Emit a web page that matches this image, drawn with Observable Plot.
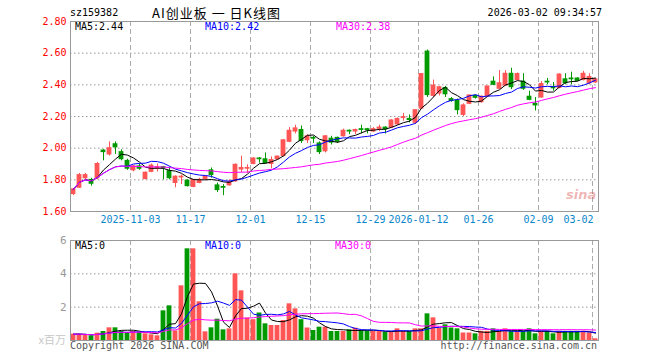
<!DOCTYPE html>
<html><head><meta charset="utf-8">
<script src="https://cdn.jsdelivr.net/npm/d3@7"></script>
<script src="https://cdn.jsdelivr.net/npm/@observablehq/plot@0.6"></script>
<style>
body{margin:0;background:#fff;width:660px;height:360px;overflow:hidden;position:relative;font-family:"DejaVu Sans Mono",monospace;}
.t{position:absolute;white-space:nowrap;font-size:10px;line-height:12px;}
#main,#vol{position:absolute;left:0;}
#main{top:0;} #vol{top:232px;}
</style></head><body>
<div id="main"></div>
<div id="vol"></div>
<script>
// ---- data ----
const tickIdx = [10,20,30,40,50,58,68,78,87];
const tickLabels = ["2025-11-03","11-17","12-01","12-15","12-29","2026-01-12","01-26","02-09","03-02"];
const priceTicks = [1.6,1.8,2.0,2.2,2.4,2.6,2.8];
const volTicks = [2,4,6];
const open = [1.71,1.75,1.81,1.80,1.81,1.985,1.96,2.025,1.975,1.92, 1.86,1.885,1.805,1.85,1.87,1.88,1.855,1.78,1.815,1.795, 1.755,1.78,1.805,1.86,1.765,1.755,1.765,1.79,1.865,1.87, 1.90,1.935,1.93,1.90,1.93,1.95,2.04,2.105,2.115,2.05, 2.065,2.03,1.98,2.06,2.065,2.075,2.11,2.105,2.12,2.12, 2.105,2.122,2.13,2.13,2.15,2.19,2.185,2.16,2.25,2.61, 2.33,2.345,2.38,2.31,2.30,2.21,2.28,2.33,2.29,2.325, 2.42,2.375,2.395,2.47,2.43,2.42,2.325,2.28,2.32,2.42, 2.385,2.38,2.435,2.44,2.44,2.43,2.41,2.415];
const high = [1.745,1.84,1.84,1.81,1.91,1.99,2.04,2.04,1.99,1.93, 1.89,1.90,1.85,1.90,1.90,1.885,1.88,1.825,1.83,1.80, 1.80,1.81,1.825,1.875,1.78,1.77,1.80,1.90,1.95,1.895, 1.94,1.94,1.97,1.945,1.95,2.055,2.13,2.145,2.14,2.085, 2.075,2.04,2.08,2.075,2.07,2.12,2.115,2.12,2.145,2.125, 2.13,2.145,2.135,2.18,2.19,2.22,2.21,2.24,2.47,2.62, 2.43,2.39,2.39,2.32,2.31,2.28,2.335,2.335,2.33,2.39, 2.45,2.49,2.49,2.505,2.475,2.47,2.36,2.32,2.42,2.44, 2.415,2.47,2.47,2.48,2.445,2.485,2.47,2.44];
const low = [1.70,1.745,1.80,1.76,1.80,1.92,1.95,1.96,1.92,1.86, 1.85,1.86,1.80,1.845,1.85,1.80,1.80,1.75,1.77,1.755, 1.75,1.775,1.795,1.81,1.72,1.70,1.76,1.785,1.845,1.84, 1.895,1.905,1.90,1.87,1.925,1.945,2.035,2.09,2.03,2.03, 2.03,1.96,1.97,2.02,2.03,2.07,2.085,2.085,2.09,2.09, 2.10,2.105,2.09,2.125,2.145,2.17,2.16,2.15,2.245,2.32, 2.32,2.33,2.32,2.29,2.21,2.20,2.275,2.31,2.285,2.32, 2.395,2.37,2.39,2.37,2.425,2.365,2.30,2.235,2.315,2.40, 2.36,2.375,2.40,2.40,2.42,2.425,2.40,2.41];
const close = [1.74,1.83,1.83,1.775,1.90,1.975,2.00,2.005,1.93,1.87, 1.885,1.87,1.845,1.89,1.88,1.875,1.81,1.82,1.82,1.76, 1.80,1.80,1.82,1.83,1.735,1.75,1.785,1.895,1.875,1.875, 1.935,1.93,1.905,1.925,1.947,2.05,2.11,2.125,2.045,2.075, 2.06,1.975,2.075,2.035,2.04,2.11,2.105,2.115,2.115,2.113, 2.12,2.13,2.12,2.175,2.185,2.196,2.178,2.24,2.468,2.335, 2.395,2.385,2.34,2.298,2.24,2.27,2.333,2.318,2.325,2.39, 2.40,2.41,2.47,2.385,2.468,2.375,2.305,2.27,2.405,2.415, 2.378,2.465,2.41,2.435,2.425,2.47,2.45,2.435];
const volume = [0.38,0.38,0.34,0.28,0.44,0.54,0.76,0.76,0.54,0.48, 0.54,0.48,0.40,0.34,0.28,1.78,2.08,0.58,3.28,5.5, 5.5,2.32,0.52,0.76,1.28,0.64,0.70,4.0,2.98,1.35, 1.25,1.65,1.0,0.9,0.9,1.2,2.2,1.9,1.25,0.75, 0.6,0.8,0.8,0.54,0.54,0.54,0.64,0.74,0.58,0.58, 0.54,0.54,0.48,0.54,0.70,0.54,0.54,0.70,0.70,1.60, 1.36,0.72,0.94,0.75,0.70,0.45,0.45,0.40,0.55,0.55, 0.70,0.55,0.70,0.55,0.55,0.55,0.70,0.40,0.55,0.55, 0.40,0.55,0.55,0.55,0.55,0.55,0.45,0.10];
const titleCode = "sz159382";
const titleName = "AI创业板 一 日K线图";
const stamp = "2026-03-02 09:34:57";
const priceLegend = ["MA5:2.44","MA10:2.42","MA30:2.38"];
const volLegend = ["MA5:0","MA10:0","MA30:0"];

const RED = "#ff5555", GREEN = "#009a00";
const MA_COLORS = ["#000000","#0000ff","#ff00ff"];
const rows = open.map((o,i)=>({i, xc:i+0.5, open:o, high:high[i], low:low[i], close:close[i], vol:volume[i], col: close[i] >= o ? RED : GREEN}));
const ticks = tickIdx.map((x,k)=>({x, label:tickLabels[k]}));
const font = {fontFamily:"DejaVu Sans Mono, monospace", fontSize:"10px", background:"transparent", overflow:"visible"};

function maLines(field){
  return [5,10,30].map((k,j)=>Plot.lineY(rows, Plot.windowY({k, anchor:"end", reduce:"mean"}, {x:"xc", y:field, stroke:MA_COLORS[j], strokeWidth:1})));
}

const main = Plot.plot({
  width:660, height:232, marginLeft:70, marginRight:62, marginTop:21, marginBottom:21,
  style:font,
  x:{domain:[0,88], axis:null},
  y:{domain:[1.6,2.8], axis:null},
  color:{type:"identity"},
  marks:[
    Plot.ruleY(priceTicks.slice(1,-1), {stroke:"#999", strokeDasharray:"1.5,2.5"}),
    Plot.ruleX(tickIdx, {stroke:"#aaa", strokeDasharray:"5,3"}),
    Plot.ruleX(rows, {x:"xc", y1:"low", y2:"high", stroke:"col"}),
    Plot.rect(rows, {x1:d=>d.i+0.1, x2:d=>d.i+0.9, y1:"open", y2:"close", fill:"col", insetTop:-0.5, insetBottom:-0.5}),
    ...maLines("close"),
    Plot.frame({stroke:"#999"}),
    Plot.text(priceTicks, {y:d=>d, text:d=>d.toFixed(2), frameAnchor:"left", dx:-4, textAnchor:"end", fill:"#ff0000"}),
    Plot.text(ticks.slice(0,-1), {x:"x", text:"label", frameAnchor:"bottom", dy:11, fill:"#0a86cc"}),
    Plot.text(ticks.slice(-1), {x:"x", text:"label", frameAnchor:"bottom", dy:11, dx:1, textAnchor:"end", fill:"#0a86cc"})
  ]
});
document.getElementById("main").append(main);

const vol = Plot.plot({
  width:660, height:128, marginLeft:70, marginRight:62, marginTop:8, marginBottom:20,
  style:font,
  x:{domain:[0,88], axis:null},
  y:{domain:[0,6], axis:null},
  color:{type:"identity"},
  marks:[
    Plot.ruleY([2,4], {stroke:"#999", strokeDasharray:"1.5,2.5"}),
    Plot.ruleX(tickIdx, {stroke:"#aaa", strokeDasharray:"5,3"}),
    Plot.rect(rows, {x1:d=>d.i+0.1, x2:d=>d.i+0.9, y1:0, y2:"vol", fill:"col"}),
    ...maLines("vol"),
    Plot.frame({stroke:"#999"}),
    Plot.text(volTicks, {y:d=>d, text:d=>String(d), frameAnchor:"left", dx:-4, textAnchor:"end", fill:"#999", fontSize:11})
  ]
});
document.getElementById("vol").append(vol);

// ---- texts ----
function addText(txt, left, top, opts={}){
  const d = document.createElement("div");
  d.className = "t"; d.textContent = txt;
  d.style.left = left+"px"; d.style.top = top+"px";
  Object.assign(d.style, opts);
  document.body.append(d);
  return d;
}
addText(titleCode, 70, 7);
addText(titleName, 152, 6, {fontFamily:"'Noto Sans CJK SC',sans-serif", fontSize:"13px", lineHeight:"13px", letterSpacing:"1px"});
const st = addText(stamp, 0, 7); st.style.left = "auto"; st.style.right = (660-602)+"px";
[75,205,336].forEach((x,k)=>addText(priceLegend[k], x, 21, {color:MA_COLORS[k], lineHeight:"11px"}));
[75,205,335].forEach((x,k)=>addText(volLegend[k], x, 240, {color:MA_COLORS[k]}));
addText("Copyright 2026 SINA.COM", 70, 340, {color:"#555"});
const u = addText("http://finance.sina.com.cn", 0, 340, {color:"#555"}); u.style.left="auto"; u.style.right=(660-597)+"px";
const xb = addText("x百万", 0, 333, {color:"#c8c8c8", fontFamily:"'Noto Sans CJK SC',sans-serif", fontSize:"11px"}); xb.style.left="auto"; xb.style.right=(660-66)+"px";
addText("sina", 566, 189, {color:"rgba(220,90,90,0.45)", fontFamily:"'DejaVu Sans',sans-serif", fontWeight:"bold", fontStyle:"italic", fontSize:"13px"});
</script>
</body></html>
